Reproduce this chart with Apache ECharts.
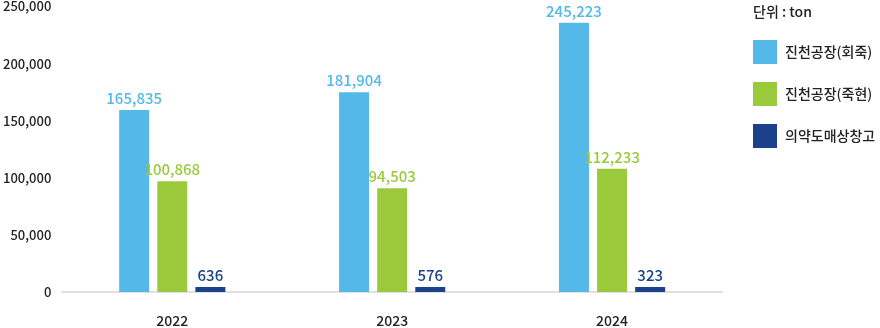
<!DOCTYPE html>
<html>
<head>
<meta charset="utf-8">
<script src="https://cdn.jsdelivr.net/npm/echarts@6/dist/echarts.min.js"></script>
<style>
  html, body { margin: 0; padding: 0; background: #fff; }
  #chart { width: 880px; height: 328px; }
</style>
</head>
<body>
<div id="chart"></div>
<script>
// Annual storage volume by site (unit: ton)
const years = ['2022', '2023', '2024'];
const seriesNames = ['진천공장(회죽)', '진천공장(죽현)', '의약도매상창고'];
const hoejuk = [165835, 181904, 245223];
const jukhyeon = [100868, 94503, 112233];
const warehouse = [636, 576, 323];
const yTicks = [0, 50000, 100000, 150000, 200000, 250000];
const barScaleMax = 260000;

const colors = ['#54b8e9', '#9bc93c', '#1a4189'];
const font = '"Noto Sans CJK KR", "Noto Sans", sans-serif';

const chart = echarts.init(document.getElementById('chart'), null, { renderer: 'canvas' });

function barSeries(name, data, color, minH) {
  return {
    name: name,
    type: 'bar',
    yAxisIndex: 1,
    data: data,
    barWidth: 30,
    barGap: '27%',
    barMinHeight: minH,
    itemStyle: { color: color },
    label: {
      show: true,
      position: 'top',
      distance: 4,
      color: color,
      fontFamily: font,
      fontSize: 15,
      fontWeight: 500,
      formatter: p => p.value.toLocaleString('en-US')
    }
  };
}

chart.setOption({
  animation: false,
  textStyle: { fontFamily: font },
  title: {
    text: '단위 : ton',
    left: 748,
    top: 0,
    textStyle: { fontFamily: font, fontSize: 14, fontWeight: 500, color: '#222' }
  },
  legend: {
    orient: 'vertical',
    left: 748,
    top: 35,
    itemWidth: 24,
    itemHeight: 24,
    itemGap: 18,
    icon: 'rect',
    data: seriesNames,
    textStyle: { fontFamily: font, fontSize: 14, fontWeight: 500, color: '#222', padding: [0, 0, 0, 3] }
  },
  grid: { left: 58, right: 158, top: 5, bottom: 33 },
  xAxis: {
    type: 'category',
    data: years,
    axisLine: { lineStyle: { color: '#e0e0e0', width: 2 } },
    axisTick: { show: false },
    axisLabel: { color: '#222', fontSize: 14, fontWeight: 500, margin: 22, fontFamily: font }
  },
  yAxis: [
    {
      type: 'value',
      min: yTicks[0],
      max: yTicks[yTicks.length - 1],
      interval: yTicks[1] - yTicks[0],
      splitLine: { show: false },
      axisLine: { show: false },
      axisTick: { show: false },
      axisLabel: {
        color: '#222',
        fontSize: 13,
        fontWeight: 500,
        margin: 11,
        fontFamily: font,
        formatter: v => v.toLocaleString('en-US')
      }
    },
    {
      type: 'value',
      min: 0,
      max: barScaleMax,
      show: false,
      splitLine: { show: false }
    }
  ],
  series: [
    barSeries(seriesNames[0], hoejuk, colors[0], 0),
    barSeries(seriesNames[1], jukhyeon, colors[1], 0),
    barSeries(seriesNames[2], warehouse, colors[2], 5)
  ]
});
</script>
</body>
</html>
